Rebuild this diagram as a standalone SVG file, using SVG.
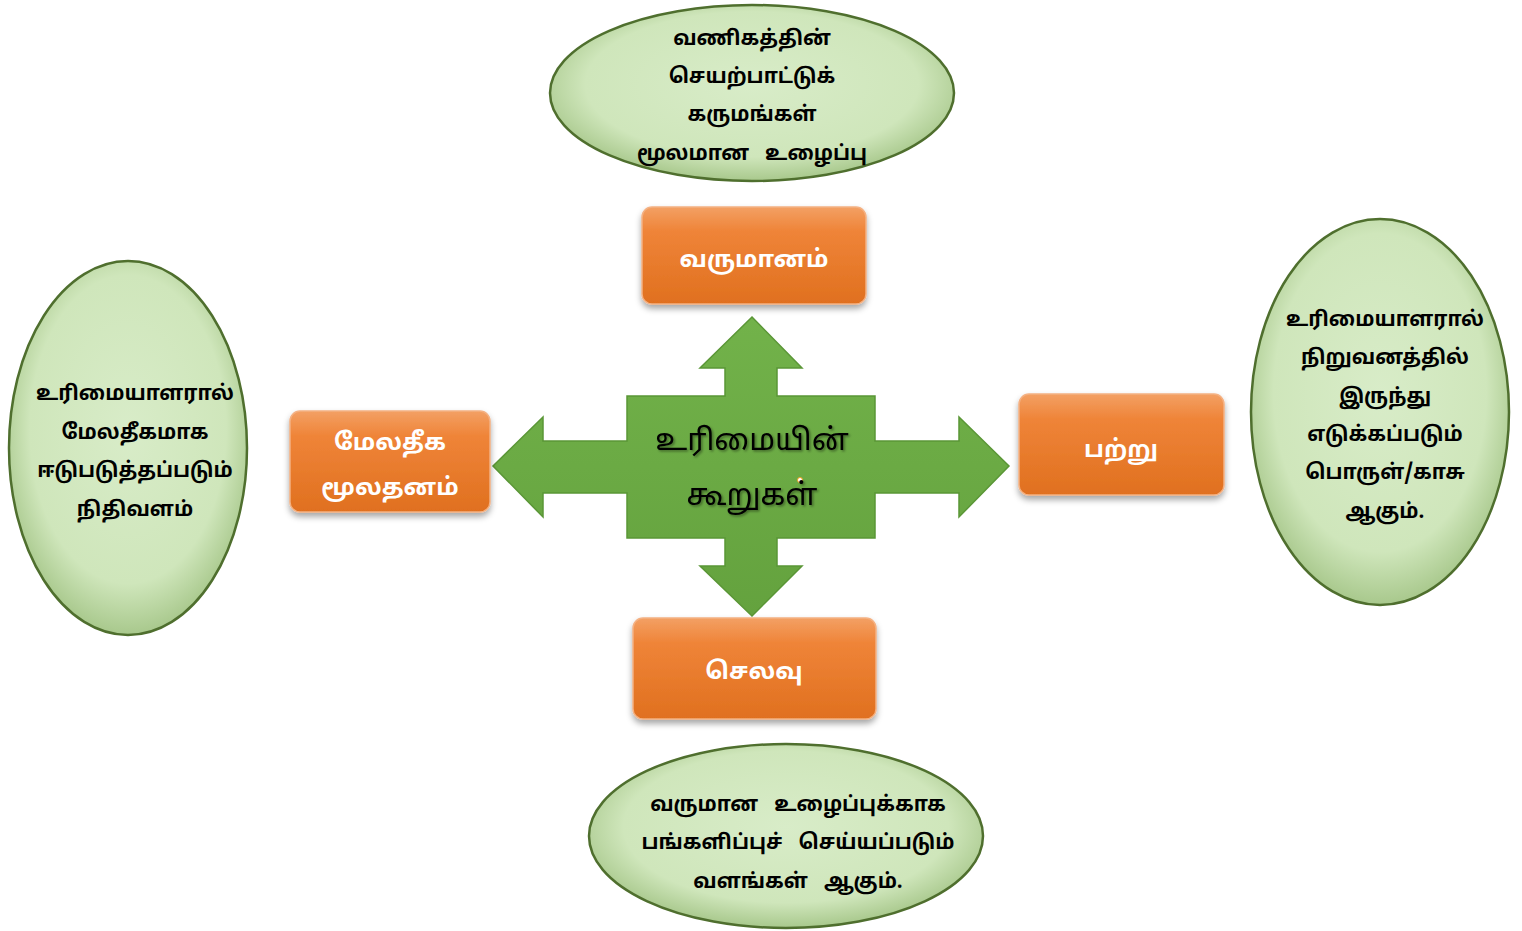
<svg xmlns="http://www.w3.org/2000/svg" width="1522" height="931" viewBox="0 0 1522 931">
<style>
.et{font-family:'Noto Sans Tamil','Latha','Lohit Tamil','Noto Sans',sans-serif;font-size:20.5px;font-weight:bold;fill:#000;text-anchor:middle;white-space:pre}
.bt{font-family:'Noto Sans Tamil','Latha','Lohit Tamil','Noto Sans',sans-serif;font-size:24px;font-weight:bold;fill:#fff;text-anchor:middle}
.ct{font-family:'Noto Sans Tamil','Latha','Lohit Tamil','Noto Sans',sans-serif;font-size:30px;fill:#000;text-anchor:middle}
.ell{fill:url(#eg);stroke:#4f6f2e;stroke-width:2.5}
.box{fill:url(#og);stroke:#f4b183;stroke-width:1.5;filter:url(#sh)}
</style>
<defs>
<radialGradient id="eg" cx="0.5" cy="0.45" r="0.55">
<stop offset="0" stop-color="#d8ecc8"/>
<stop offset="0.75" stop-color="#cfe6bb"/>
<stop offset="1" stop-color="#a8c88c"/>
</radialGradient>
<linearGradient id="og" x1="0" y1="0" x2="0" y2="1">
<stop offset="0" stop-color="#f3a064"/>
<stop offset="0.25" stop-color="#ef8438"/>
<stop offset="1" stop-color="#e0701f"/>
</linearGradient>
<linearGradient id="gg" x1="0" y1="0" x2="0" y2="1">
<stop offset="0" stop-color="#72b24a"/>
<stop offset="1" stop-color="#64a23e"/>
</linearGradient>
<filter id="sh" x="-10%" y="-10%" width="120%" height="130%">
<feDropShadow dx="0" dy="4" stdDeviation="3" flood-color="#000" flood-opacity="0.35"/>
</filter>
<filter id="ts" x="-10%" y="-20%" width="120%" height="140%">
<feDropShadow dx="1.5" dy="1.5" stdDeviation="1" flood-color="#000" flood-opacity="0.4"/>
</filter>
</defs>

<g id="connectors">
<path d="M752,317 L802,368 L777,368 L777,396 L875,396 L875,441 L959,441 L959,417 L1009,466 L959,517 L959,493 L875,493 L875,538 L777,538 L777,566 L802,566 L752,616 L700,566 L725,566 L725,538 L627,538 L627,493 L543,493 L543,517 L493,466 L543,417 L543,441 L627,441 L627,396 L725,396 L725,368 L700,368 Z" fill="url(#gg)" stroke="#5a9636" stroke-width="1.5"/>
<circle cx="800" cy="480" r="2.5" fill="#fff" stroke="#f0a020" stroke-width="1"/>
</g>

<g id="center">
<text class="ct" x="752" y="450" filter="url(#ts)">உரிமையின்</text>
<text class="ct" x="752" y="505" filter="url(#ts)">கூறுகள்</text>
</g>

<g id="e-top">
<ellipse class="ell" cx="752" cy="93" rx="202" ry="88"/>
<text class="et" x="752" y="45">வணிகத்தின்</text>
<text class="et" x="752" y="83">செயற்பாட்டுக்</text>
<text class="et" x="752" y="121">கருமங்கள்</text>
<text class="et" x="752" y="160">மூலமான   உழைப்பு</text>
</g>

<g id="e-left">
<ellipse class="ell" cx="128" cy="448" rx="119" ry="187"/>
<text class="et" x="135" y="400">உரிமையாளரால்</text>
<text class="et" x="135" y="439">மேலதீகமாக</text>
<text class="et" x="135" y="477">ஈடுபடுத்தப்படும்</text>
<text class="et" x="135" y="516">நிதிவளம்</text>
</g>

<g id="e-right">
<ellipse class="ell" cx="1380" cy="412" rx="129" ry="193"/>
<text class="et" x="1385" y="326">உரிமையாளரால்</text>
<text class="et" x="1385" y="364">நிறுவனத்தில்</text>
<text class="et" x="1385" y="403">இருந்து</text>
<text class="et" x="1385" y="441">எடுக்கப்படும்</text>
<text class="et" x="1385" y="479">பொருள்/காசு</text>
<text class="et" x="1385" y="518">ஆகும்.</text>
</g>

<g id="e-bottom">
<ellipse class="ell" cx="786" cy="836" rx="197" ry="92"/>
<text class="et" x="798" y="811">வருமான   உழைப்புக்காக</text>
<text class="et" x="798" y="849">பங்களிப்புச்   செய்யப்படும்</text>
<text class="et" x="798" y="888">வளங்கள்   ஆகும்.</text>
</g>

<g id="b-top">
<rect class="box" x="642" y="207" width="224" height="97" rx="10"/>
<text class="bt" x="754" y="267">வருமானம்</text>
</g>

<g id="b-left">
<rect class="box" x="290" y="411" width="200" height="101" rx="10"/>
<text class="bt" x="390" y="450">மேலதீக</text>
<text class="bt" x="390" y="495">மூலதனம்</text>
</g>

<g id="b-right">
<rect class="box" x="1019" y="394" width="205" height="101" rx="10"/>
<text class="bt" x="1121" y="457">பற்று</text>
</g>

<g id="b-bottom">
<rect class="box" x="633" y="618" width="243" height="101" rx="10"/>
<text class="bt" x="754" y="679">செலவு</text>
</g>
</svg>
